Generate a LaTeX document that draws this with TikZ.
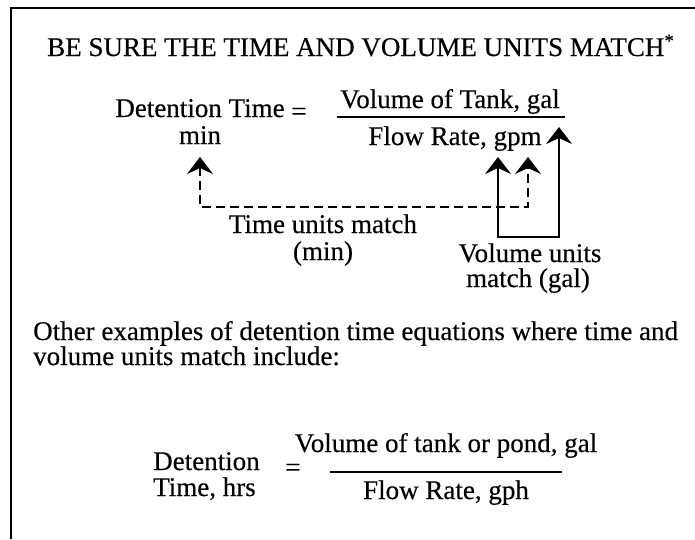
\documentclass[tikz,border=0pt]{standalone}
\usepackage{fontspec}
\setmainfont{Liberation Serif}[FakeBold=0.35]
\usepackage{tikz}
\usetikzlibrary{arrows.meta,positioning}
\tikzset{
  txt/.style={inner sep=0pt, font=\fontsize{27}{32}\selectfont, anchor=base},
  txtleft/.style={txt, anchor=base west},
  frame/.style={line width=2.4pt},
  fracbar/.style={line width=2.6pt},
  unitarrow/.style={{Stealth[length=17pt,width=26pt,inset=6pt]}-{Stealth[length=17pt,width=26pt,inset=6pt]},
                    line width=2.6pt},
  matcharrow/.style={unitarrow, dash pattern=on 9pt off 5pt}
}

\begin{document}
\begin{tikzpicture}[x=1pt, y=-1pt]
  \useasboundingbox (0,0) rectangle (695,539);
  \draw[frame] (11,539) -- (11,8) -- (695,8);

  \node[txtleft] (title) at (47,56)
    {BE SURE THE TIME AND VOLUME UNITS MATCH\textsuperscript{*}};

  % first equation
  \node[txt] (dettime) at (200,117) {Detention Time};
  \node[txt, anchor=center] (eqone) at (299,114) {=};
  \node[txt] (detmin) at (200,144) {min};
  \node[txt] (tankvol) at (450,108) {Volume of Tank, gal};
  \node[txt] (flowgpm) at (455,145) {Flow Rate, gpm};
  \draw[fracbar] (337,117) -- (565,117);

  \coordinate (minTip) at (200,157);
  \coordinate (gpmTip) at (528,157);
  \coordinate (timeCorner) at (528,207);
  \coordinate (gTip) at (498,157);
  \coordinate (tankTip) at (559,127);
  \coordinate (volCorner) at (559,237);
  \draw[matcharrow] (minTip) |- (timeCorner) -- (gpmTip);
  \draw[unitarrow] (gTip) |- (volCorner) -- (tankTip);

  \node[txt] (timelbl) at (323,233) {Time units match};
  \node[txt] (timeunit) at (323,260) {(min)};
  \node[txt] (vollbl) at (530,262) {Volume units};
  \node[txt] (volunit) at (528,287) {match (gal)};

  % other examples
  \node[txtleft] (other) at (33,340)
    {Other examples of detention time equations where time and};
  \node[txtleft] (otherb) at (33,365) {volume units match include:};

  % second equation
  \node[txtleft] (det) at (153,470) {Detention};
  \node[txtleft] (dethrs) at (153,496) {Time, hrs};
  \node[txt, anchor=center] (eqtwo) at (293,470) {=};
  \node[txt] (pondvol) at (446,452) {Volume of tank or pond, gal};
  \node[txt] (flowgph) at (446,499) {Flow Rate, gph};
  \draw[fracbar] (330,472) -- (562,472);
\end{tikzpicture}
\end{document}
